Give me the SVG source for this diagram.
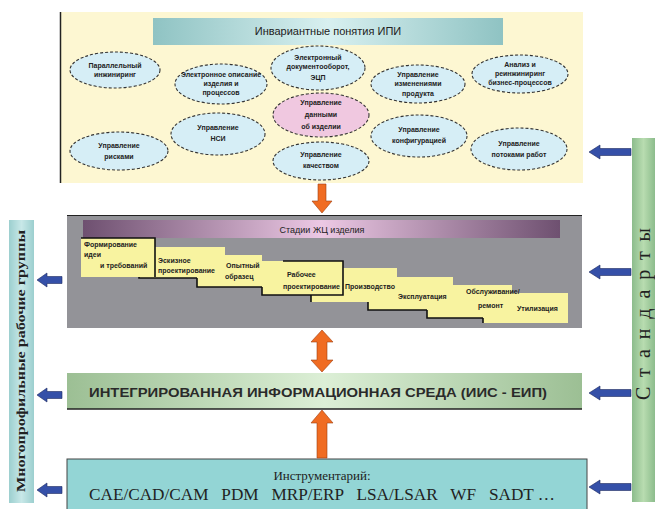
<svg xmlns="http://www.w3.org/2000/svg" width="655" height="509" viewBox="0 0 655 509">
<defs>
<linearGradient id="gTeal" x1="0" x2="1" y1="0" y2="0">
<stop offset="0" stop-color="#8fc3c3"/><stop offset="0.5" stop-color="#d8f0f0"/><stop offset="1" stop-color="#8fc3c3"/>
</linearGradient>
<linearGradient id="gPurple" x1="0" x2="1" y1="0" y2="0">
<stop offset="0" stop-color="#6e5070"/><stop offset="0.5" stop-color="#ecc8e4"/><stop offset="1" stop-color="#6e5070"/>
</linearGradient>
<linearGradient id="gGreen" x1="0" x2="1" y1="0" y2="0">
<stop offset="0" stop-color="#9cbf94"/><stop offset="0.5" stop-color="#dcefd6"/><stop offset="1" stop-color="#9cbf94"/>
</linearGradient>
<linearGradient id="gGreenV" x1="0" x2="1" y1="0" y2="0">
<stop offset="0" stop-color="#8cbc8c"/><stop offset="0.5" stop-color="#b8dcb0"/><stop offset="1" stop-color="#8cbc8c"/>
</linearGradient>
<linearGradient id="gTealV" x1="0" x2="1" y1="0" y2="0">
<stop offset="0" stop-color="#9ccfcf"/><stop offset="0.5" stop-color="#c8e8e8"/><stop offset="1" stop-color="#9ccfcf"/>
</linearGradient>
</defs>
<style>
.ell{fill:#d6eef6;stroke:#333;stroke-width:1.1;stroke-dasharray:3 2}
.pink{fill:#f0c8e0}
.et{font-family:"Liberation Sans",Arial,sans-serif;font-size:7px;font-weight:bold;fill:#222;text-anchor:middle}
.card{fill:#f8f3a0}
.blk{fill:none;stroke:#111;stroke-width:1.6}
.ct{font-family:"Liberation Sans",Arial,sans-serif;font-size:7px;font-weight:bold;fill:#222}
.barrow{fill:#3550a8;stroke:#1c2a60;stroke-width:0.6}
.oarrow{fill:#f06c22;stroke:#a04010;stroke-width:0.6}
</style>

<!-- Top panel -->
<g id="concepts">
<rect x="60" y="12" width="523" height="171" fill="#fdf7d2"/>
<line x1="60.5" y1="12" x2="60.5" y2="183" stroke="#222" stroke-width="1.5"/>
<rect x="153" y="18" width="350" height="27" fill="url(#gTeal)"/>
<text x="328" y="35" font-family="Liberation Sans, Arial, sans-serif" font-size="11" fill="#222" text-anchor="middle">Инвариантные понятия ИПИ</text>
</g>
<g id="e1"><ellipse class="ell" cx="115" cy="70" rx="45" ry="18"/><text class="et" x="115" y="68">Параллельный</text><text class="et" x="115" y="77">инжиниринг</text></g>
<g id="e2"><ellipse class="ell" cx="221" cy="84" rx="46" ry="20"/><text class="et" x="221" y="77">Электронное описание</text><text class="et" x="221" y="86">изделия и</text><text class="et" x="221" y="95">процессов</text></g>
<g id="e3"><ellipse class="ell" cx="318" cy="68" rx="47" ry="22"/><text class="et" x="318" y="60">Электронный</text><text class="et" x="318" y="69">документооборот,</text><text class="et" x="318" y="80">ЭЦП</text></g>
<g id="e4"><ellipse class="ell" cx="418" cy="84" rx="47" ry="19"/><text class="et" x="418" y="77">Управление</text><text class="et" x="418" y="86">изменениями</text><text class="et" x="418" y="96">продукта</text></g>
<g id="e5"><ellipse class="ell" cx="520" cy="74" rx="48" ry="19"/><text class="et" x="520" y="67">Анализ и</text><text class="et" x="520" y="76">реинжиниринг</text><text class="et" x="520" y="85">бизнес-процессов</text></g>
<g id="e6"><ellipse class="ell pink" cx="321" cy="115" rx="48" ry="22"/><text class="et" x="321" y="105">Управление</text><text class="et" x="321" y="117">данными</text><text class="et" x="321" y="129">об изделии</text></g>
<g id="e7"><ellipse class="ell" cx="218" cy="134" rx="47" ry="21"/><text class="et" x="218" y="130">Управление</text><text class="et" x="218" y="141">НСИ</text></g>
<g id="e8"><ellipse class="ell" cx="119" cy="151" rx="49" ry="19"/><text class="et" x="119" y="148">Управление</text><text class="et" x="119" y="159">рисками</text></g>
<g id="e9"><ellipse class="ell" cx="321" cy="161" rx="48" ry="19"/><text class="et" x="321" y="157">Управление</text><text class="et" x="321" y="168">качеством</text></g>
<g id="e10"><ellipse class="ell" cx="419" cy="136" rx="48" ry="21"/><text class="et" x="419" y="132">Управление</text><text class="et" x="419" y="143">конфигурацией</text></g>
<g id="e11"><ellipse class="ell" cx="519" cy="149" rx="48" ry="21"/><text class="et" x="519" y="146">Управление</text><text class="et" x="519" y="157">потоками работ</text></g>

<!-- Lifecycle stages -->
<g id="stages">
<rect x="67" y="215" width="515" height="113" fill="#939398"/>
<line x1="67" y1="215.5" x2="582" y2="215.5" stroke="#222" stroke-width="1.2"/>
<rect x="83" y="220" width="477" height="18" fill="url(#gPurple)"/>
<text x="322" y="233" font-family="Liberation Sans, Arial, sans-serif" font-size="9" fill="#222" text-anchor="middle">Стадии ЖЦ изделия</text>
</g>
<g id="s8"><rect class="card" x="483" y="293" width="85" height="30"/><path class="blk" d="M483,318V323"/><text class="ct" x="517" y="311">Утилизация</text></g>
<g id="s7"><rect class="card" x="427" y="285" width="85" height="33"/><path class="blk" d="M427,310V318H483"/><text class="ct" x="466" y="294">Обслуживание/</text><text class="ct" x="478" y="308">ремонт</text></g>
<g id="s6"><rect class="card" x="368" y="277" width="85" height="33"/><path class="blk" d="M368,302V310H427"/><text class="ct" x="398" y="299">Эксплуатация</text></g>
<g id="s5"><rect class="card" x="311" y="268" width="86" height="34"/><path class="blk" d="M311,295V302"/><text class="ct" x="345" y="289">Производство</text></g>
<g id="s4"><rect class="card" x="262" y="261" width="81" height="34"/><path class="blk" d="M283,261H343V295H262V287"/><text class="ct" x="287" y="277">Рабочее</text><text class="ct" x="283" y="289">проектирование</text></g>
<g id="s3"><rect class="card" x="197" y="255" width="65" height="32"/><path class="blk" d="M197,278V287H262"/><text class="ct" x="226" y="268">Опытный</text><text class="ct" x="225" y="279">образец</text></g>
<g id="s2"><rect class="card" x="140" y="247" width="85" height="31"/><path class="blk" d="M139,275V278H197"/><text class="ct" x="158" y="263">Эскизное</text><text class="ct" x="158" y="273">проектирование</text></g>
<g id="s1"><rect class="card" x="81" y="238" width="74" height="39"/><path class="blk" d="M81,238H155V277"/><text class="ct" x="84" y="247">Формирование</text><text class="ct" x="84" y="257">идеи</text><text class="ct" x="100" y="268">и требований</text></g>

<!-- Integrated environment -->
<g id="iis">
<rect x="67" y="373" width="515" height="36" fill="url(#gGreen)"/>
<line x1="67" y1="409" x2="582" y2="409" stroke="#222" stroke-width="1.5"/>
<text x="318" y="397" font-family="Liberation Sans, Arial, sans-serif" font-size="13.5" font-weight="bold" fill="#2a2a2a" text-anchor="middle" textLength="458" lengthAdjust="spacingAndGlyphs">ИНТЕГРИРОВАННАЯ ИНФОРМАЦИОННАЯ СРЕДА (ИИС - ЕИП)</text>
</g>

<!-- Tools -->
<g id="tools">
<rect x="67" y="459" width="520" height="52" fill="#93d5d5" stroke="#444" stroke-width="1"/>
<text x="322" y="480" font-family="Liberation Serif, Times New Roman, serif" font-size="13" fill="#222" text-anchor="middle">Инструментарий:</text>
<text x="322" y="500" xml:space="preserve" style="white-space:pre" font-family="Liberation Serif, Times New Roman, serif" font-size="17" fill="#222" text-anchor="middle" textLength="466" lengthAdjust="spacingAndGlyphs">CAE/CAD/CAM   PDM   MRP/ERP   LSA/LSAR   WF   SADT …</text>
</g>

<!-- Left bar -->
<g id="teams">
<rect x="9" y="220" width="25" height="283" fill="url(#gTealV)"/>
<text transform="translate(25,361) rotate(-90)" x="0" y="0" font-family="Liberation Serif, Times New Roman, serif" font-size="11.5" font-weight="bold" fill="#222" text-anchor="middle" textLength="262" lengthAdjust="spacingAndGlyphs">Многопрофильные рабочие группы</text>
</g>

<!-- Right bar -->
<g id="standards">
<rect x="632" y="138" width="23" height="364" fill="url(#gGreenV)"/>
<text transform="translate(650,314) rotate(-90)" x="0" y="0" font-family="Liberation Serif, Times New Roman, serif" font-size="20" fill="#222" text-anchor="middle" textLength="172" lengthAdjust="spacing">Стандарты</text>
</g>

<!-- Connectors -->
<g id="connectors">
<path class="oarrow" d="M318,184H326V201H332L322,213L312,201H318Z"/>
<path class="oarrow" d="M322,330L333,342H327V360H333L322,372L311,360H317V342H311Z"/>
<path class="oarrow" d="M322,410L333,423H327V458H317V423H311Z"/>
<path class="barrow" d="M37,280L47,273V276.5H62V283.5H47V287Z"/>
<path class="barrow" d="M37,395L47,388V391.5H62V398.5H47V402Z"/>
<path class="barrow" d="M37,490L47,483V486.5H62V493.5H47V497Z"/>
<path class="barrow" d="M589,152L600,145V148.5H631V155.5H600V159Z"/>
<path class="barrow" d="M589,272L600,265V268.5H631V275.5H600V279Z"/>
<path class="barrow" d="M589,393L600,386V389.5H631V396.5H600V400Z"/>
<path class="barrow" d="M589,487L600,480V483.5H631V490.5H600V494Z"/>
</g>
</svg>
